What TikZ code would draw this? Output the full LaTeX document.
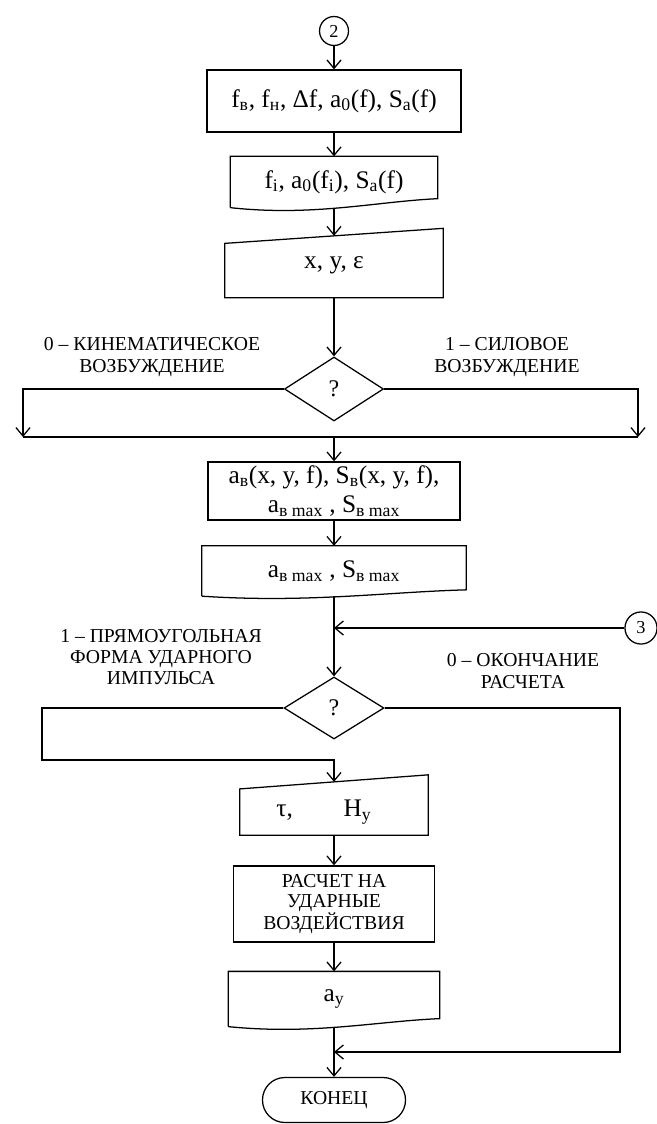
\documentclass[tikz,border=0pt]{standalone}
\usepackage{fontspec}
\setmainfont{Liberation Serif}
\usetikzlibrary{arrows.meta,shapes.geometric,calc}

\tikzset{
  blk/.style={rectangle, draw, inner sep=0pt, align=center, font=\fontsize{18}{21}\selectfont},
  ghost/.style={blk, draw=none},
  cond/.style={diamond, draw, inner sep=0pt, font=\fontsize{17}{17}\selectfont},
  conn/.style={circle, draw, inner sep=0pt, font=\fontsize{13}{13}\selectfont},
  stop/.style={rectangle, draw, rounded corners=15.9pt, inner sep=0pt, font=\fontsize{14}{14}\selectfont},
  lbl/.style={align=center, inner sep=0pt, font=\fontsize{14}{15.2}\selectfont},
  flow/.style={-{Straight Barb[length=6pt,width=10pt]}},
}

\begin{document}
\begin{tikzpicture}[x=0.025cm, y=-0.025cm, line width=0.9pt]
  \useasboundingbox (0,0) rectangle (657,1124);

  % Blocks
  \node[conn, minimum size=20.6pt] (c2) at (334,31) {2};
  \node[blk, minimum width=180.7pt, minimum height=44.1pt] (b1) at (334,101)
    {f\textsubscript{в}, f\textsubscript{н}, Δf, a\textsubscript{0}(f), S\textsubscript{a}(f)};
  \node[ghost, minimum width=146.5pt, minimum height=35.6pt] (b2) at (334,182)
    {f\textsubscript{i}, a\textsubscript{0}(f\textsubscript{i}), S\textsubscript{a}(f)};
  \node[ghost, minimum width=154.4pt, minimum height=48.4pt, text height=8.3pt, text depth=0pt] (b3) at (334,263) {x, y, ε};
  \node[cond, minimum width=70.4pt, minimum height=45.5pt] (d1) at (334,389) {?};
  \node[blk, minimum width=179.2pt, minimum height=41.3pt] (b4) at (334,491)
    {a\textsubscript{в}(x, y, f), S\textsubscript{в}(x, y, f),\\a\textsubscript{в max} , S\textsubscript{в max}};
  \node[ghost, minimum width=187.1pt, minimum height=34.9pt] (b5) at (334,571)
    {a\textsubscript{в max} , S\textsubscript{в max}};
  \node[conn, minimum size=22.8pt] (c3) at (641,628) {3};
  \node[cond, minimum width=71.1pt, minimum height=44.1pt] (d2) at (334,708) {?};
  \node[ghost, minimum width=133pt, minimum height=42pt, text height=17pt, text depth=0pt] (b6) at (334,805)
    {τ,\hspace{2em}H\textsubscript{y}\hspace*{0.8em}};
  \node[blk, minimum width=143pt, minimum height=54.1pt, font=\fontsize{14}{14.3}\selectfont] (b7) at (334,904)
    {РАСЧЕТ НА\\УДАРНЫЕ\\ВОЗДЕЙСТВИЯ};
  \node[ghost, minimum width=149.4pt, minimum height=38.4pt] (b8) at (334,999) {a\textsubscript{y}};
  \node[stop, minimum width=101.7pt, minimum height=32pt] (t) at (334,1100) {КОНЕЦ};

  % Outlines of documents and inputs
  \draw (b2.south west) -- (b2.north west) -- (b2.north east) -- ([yshift=6.4pt]b2.south east)
    .. controls ($(b2.south west)!0.7!(b2.south east)+(0,4.3pt)$) and ($(b2.south west)!0.4!(b2.south east)+(0,-6.4pt)$) .. (b2.south west);
  \draw ([yshift=-10.7pt]b3.north west) -- (b3.north east) -- (b3.south east) -- (b3.south west) -- cycle;
  \draw (b5.south west) -- (b5.north west) -- (b5.north east) -- ([yshift=4.5pt]b5.south east)
    .. controls ($(b5.south west)!0.7!(b5.south east)+(0,3pt)$) and ($(b5.south west)!0.4!(b5.south east)+(0,-5pt)$) .. (b5.south west);
  \draw ([yshift=-10pt]b6.north west) -- (b6.north east) -- (b6.south east) -- (b6.south west) -- cycle;
  \draw (b8.south west) -- (b8.north west) -- (b8.north east) -- ([yshift=5.7pt]b8.south east)
    .. controls ($(b8.south west)!0.7!(b8.south east)+(0,3.8pt)$) and ($(b8.south west)!0.4!(b8.south east)+(0,-6pt)$) .. (b8.south west);

  % Junctions
  \coordinate (l1) at (23,437);
  \coordinate (r1) at (638,437);
  \coordinate (m1) at (334,437);
  \coordinate (j2) at (334,628);
  \coordinate (l2) at (42,760);
  \coordinate (m2) at (334,760);
  \coordinate (r2) at (620,1052);
  \coordinate (j3) at (334,1052);

  % Arrows
  \draw[flow] (c2) -- (b1);
  \draw[flow] (b1) -- (b2);
  \draw[flow, shorten >=-5.3pt] (b2) -- (b3);
  \draw[flow] (b3) -- (d1);
  \draw[flow] (d1.west) -| (l1);
  \draw[flow] (d1.east) -| (r1);
  \draw (l1) -- (r1);
  \draw[flow] (m1) -- (b4);
  \draw[flow] (b4) -- (b5);
  \draw[flow] (b5) -- (d2);
  \draw[flow] (c3) -- (j2);
  \draw[flow, shorten >=-5pt] (d2.west) -| (l2) -- (m2) -- (b6);
  \draw[flow] (b6) -- (b7);
  \draw[flow] (b7) -- (b8);
  \draw[flow] (b8) -- (t);
  \draw[flow] (d2.east) -| (r2) -- (j3);

  % Labels
  \node[lbl] (k0) at (152,357) {0 -- КИНЕМАТИЧЕСКОЕ\\ВОЗБУЖДЕНИЕ};
  \node[lbl] (k1) at (507,357) {1 -- СИЛОВОЕ\\ВОЗБУЖДЕНИЕ};
  \node[lbl] (p1) at (161,657) {1 -- ПРЯМОУГОЛЬНАЯ\\ФОРМА УДАРНОГО\\ИМПУЛЬСА};
  \node[lbl] (p0) at (523,671) {0 -- ОКОНЧАНИЕ\\РАСЧЕТА};
\end{tikzpicture}
\end{document}
